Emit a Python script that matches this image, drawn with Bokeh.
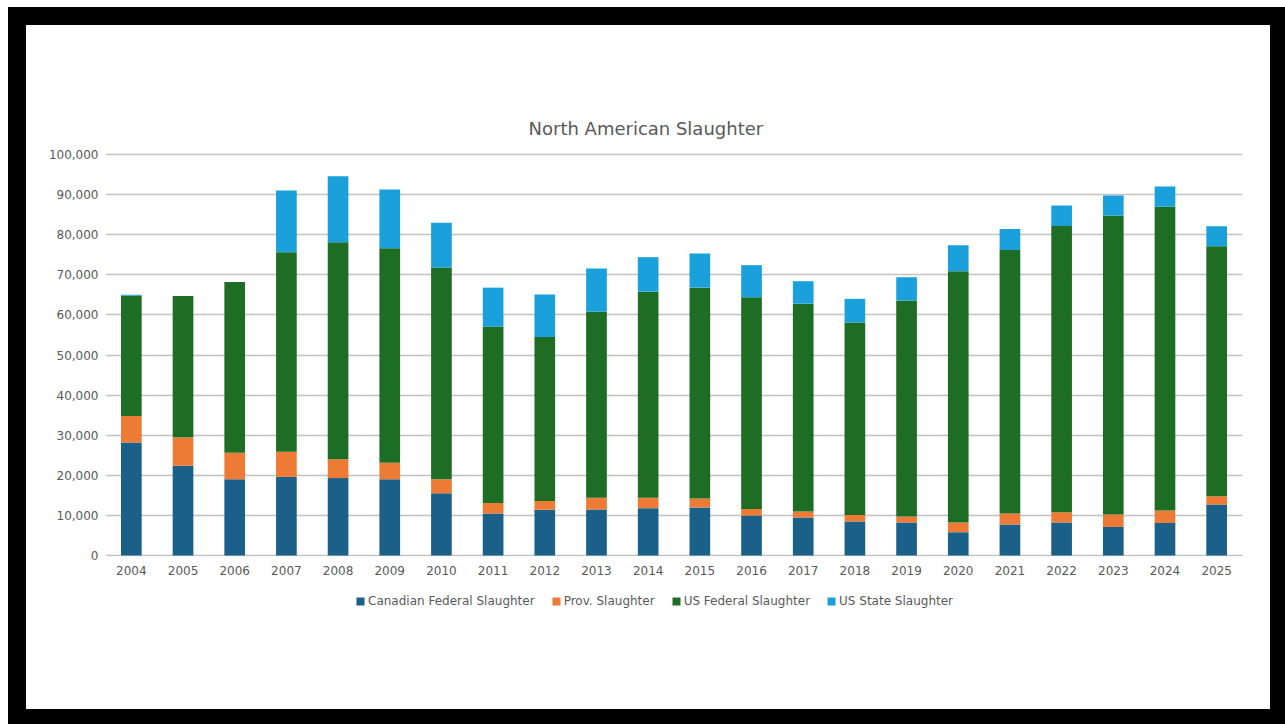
from bokeh.plotting import figure
from bokeh.models import (Range1d, FactorRange, FixedTicker, NumeralTickFormatter,
                          Legend, LegendItem, Spacer)
from bokeh.layouts import column, row
from bokeh.embed import file_html
from bokeh.resources import INLINE

years = [str(y) for y in range(2004, 2026)]
canadian_federal = [28.2, 22.4, 19.0, 19.6, 19.3, 19.0, 15.5, 10.5, 11.4, 11.5, 11.8,
                    12.0, 10.0, 9.5, 8.5, 8.2, 5.8, 7.7, 8.2, 7.1, 8.1, 12.7]
prov = [6.6, 7.1, 6.6, 6.3, 4.7, 4.1, 3.5, 2.6, 2.2, 2.9, 2.6,
        2.2, 1.6, 1.5, 1.6, 1.5, 2.4, 2.8, 2.6, 3.1, 3.1, 2.1]
us_federal = [30.0, 35.2, 42.6, 49.7, 54.1, 53.5, 52.8, 44.0, 40.9, 46.4, 51.4,
              52.6, 52.8, 51.8, 48.0, 53.9, 62.7, 65.7, 71.4, 74.5, 75.8, 62.3]
us_state = [0.2, 0.0, 0.0, 15.4, 16.5, 14.7, 11.2, 9.7, 10.6, 10.8, 8.6,
            8.5, 8.0, 5.6, 5.9, 5.8, 6.5, 5.2, 5.1, 5.1, 5.0, 5.0]
y_ticks = list(range(0, 100001, 10000))

series = ["Canadian Federal Slaughter", "Prov. Slaughter", "US Federal Slaughter", "US State Slaughter"]
keys = ["cf", "pv", "uf", "us"]
colors = ["#1b6088", "#ed7b35", "#1d6e24", "#1aa0da"]

data = {
    "year": years,
    "cf": [v * 1000 for v in canadian_federal],
    "pv": [v * 1000 for v in prov],
    "uf": [v * 1000 for v in us_federal],
    "us": [v * 1000 for v in us_state],
}

FONT = "DejaVu Sans"
TXT = "#595959"


def clean(fig):
    fig.outline_line_color = None
    fig.outline_line_alpha = 0
    fig.outline_line_width = 0
    fig.background_fill_color = None
    fig.border_fill_color = None
    fig.xgrid.grid_line_color = None
    fig.ygrid.grid_line_color = None


p = figure(x_range=FactorRange(*years, range_padding=0), y_range=Range1d(-250, 100500),
           width=1244, height=560, output_backend="svg", toolbar_location=None,
           min_border_left=79, min_border_right=28, min_border_top=127, min_border_bottom=29,
           title="North American Slaughter")
clean(p)

p.title.text_font = FONT
p.title.text_font_size = "18px"
p.title.text_font_style = "normal"
p.title.text_color = TXT
p.title.align = "left"
p.title.offset = 423
p.title.standoff = 28

# horizontal gridlines at the tick values
p.hspan(y=y_ticks, line_color="#c2c2c2", line_width=1.6, level="underlay")

p.vbar_stack(keys, x="year", width=0.4, color=colors, source=data, line_width=0)

p.yaxis.ticker = FixedTicker(ticks=y_ticks)
p.yaxis.formatter = NumeralTickFormatter(format="0,0")
for ax in (p.xaxis[0], p.yaxis[0]):
    ax.axis_line_color = None
    ax.major_tick_line_color = None
    ax.minor_tick_line_color = None
    ax.major_tick_out = 0
    ax.major_tick_in = 0
    ax.major_label_text_font = FONT
    ax.major_label_text_font_size = "12px"
    ax.major_label_text_color = TXT
p.yaxis.major_label_standoff = 7
p.xaxis.major_label_standoff = 9

# legend strip below the chart (same white canvas); its bar renderers are hidden
pl = figure(width=1244, height=124, output_backend="svg", toolbar_location=None,
            x_range=FactorRange(*years, range_padding=0), y_range=Range1d(1e7, 1e7 + 1),
            x_axis_location=None, y_axis_location=None,
            min_border_left=0, min_border_right=0, min_border_top=0, min_border_bottom=0)
clean(pl)
proxies = pl.vbar_stack(keys, x="year", width=0.4, color=colors, source=data, line_width=0)
for r in proxies:
    r.visible = False

legend = Legend(items=[LegendItem(label=s, renderers=[r]) for s, r in zip(series, proxies)],
                orientation="horizontal", location=(250, 101))
legend.padding = 0
legend.margin = 0
legend.spacing = 16
legend.glyph_width = 10
legend.glyph_height = 10
legend.label_standoff = 3
legend.label_height = 12
legend.label_text_font = FONT
legend.label_text_font_size = "12px"
legend.label_text_color = TXT
legend.border_line_color = None
legend.background_fill_alpha = 0
legend.inactive_fill_alpha = 0
pl.add_layout(legend, "center")

chart = column(p, pl, styles={"background-color": "white"})

framed = column(
    Spacer(width=1277, height=18),
    row(Spacer(width=18, height=684), chart, Spacer(width=15, height=684)),
    Spacer(width=1277, height=15),
    styles={"background-color": "black"},
)

layout = column(
    Spacer(width=1285, height=7),
    row(Spacer(width=8, height=717), framed),
    styles={"background-color": "white"},
)

open("out.html", "w").write(file_html(layout, INLINE))
